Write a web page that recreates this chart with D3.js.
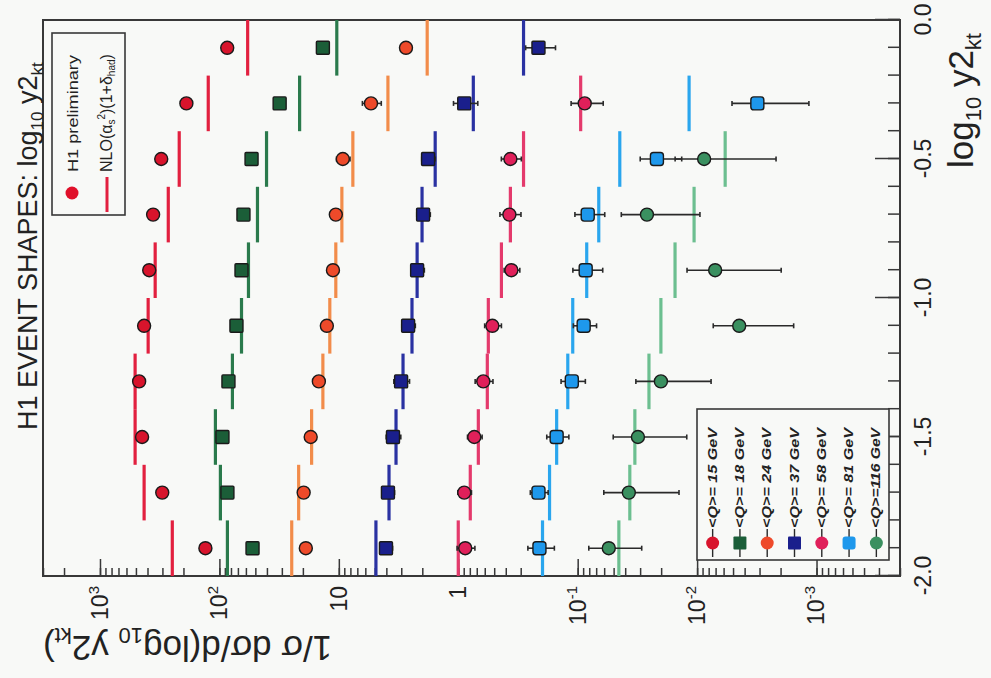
<!DOCTYPE html>
<html>
<head>
<meta charset="utf-8">
<script src="https://cdn.jsdelivr.net/npm/d3@7"></script>
<style>
  body { margin: 0; background: #f8f9f7; }
  svg { display: block; }
  text { font-family: "Liberation Sans", Arial, sans-serif; fill: #222; }
</style>
</head>
<body>
<svg id="chart"></svg>
<script>
// H1 event shapes, log10 y2kt, drawn upright then turned a quarter left

// bin centres of log10 y2kt
var bins = [-1.9, -1.7, -1.5, -1.3, -1.1, -0.9, -0.7, -0.5, -0.3, -0.1];

// data (scaled per <Q> bin as in the plot), NLO curves and relative errors
var q15 = [131, 301, 444, 470, 427, 387, 359, 307, 189, 86];
var q15Nlo = [248, 427, 508, 508, 395, 345, 268, 217, 124, 58];
var q15Err = [0.1, 0.08, 0.08, 0.08, 0.08, 0.08, 0.08, 0.08, 0.08, 0.08];

var q18 = [52.8, 85.7, 94.3, 84, 72, 65.3, 62.9, 53.8, 31.3, 13.6];
var q18Nlo = [85.7, 98.1, 108, 77.8, 65.3, 57.1, 48, 40.3, 21.3, 10.4];
var q18Err = [0.08, 0.08, 0.08, 0.08, 0.08, 0.08, 0.08, 0.08, 0.08, 0.08];

var q24 = [18.9, 19.7, 17.2, 14.7, 12.6, 11.2, 10.6, 9.26, 5.38, 2.74];
var q24Nlo = [24.8, 21.7, 16.9, 13.6, 11.9, 10.6, 9.43, 7.63, 3.88, 1.82];
var q24Err = [0.1, 0.1, 0.1, 0.1, 0.1, 0.1, 0.1, 0.13, 0.18, 0.1];

var q37 = [4.03, 3.88, 3.52, 3.01, 2.63, 2.21, 1.97, 1.79, 0.891, 0.213];
var q37Nlo = [4.89, 3.80, 3.32, 2.90, 2.44, 2.21, 2.01, 1.56, 0.748, 0.284];
var q37Err = [0.12, 0.12, 0.14, 0.15, 0.13, 0.13, 0.13, 0.13, 0.23, 0.28];

var q58 = [0.874, 0.891, 0.734, 0.617, 0.518, 0.359, 0.373, 0.366, 0.0873, null];
var q58Nlo = [1.0, 0.793, 0.679, 0.571, 0.560, 0.435, 0.366, 0.284, 0.0944, null];
var q58Err = [0.17, 0.13, 0.14, 0.17, 0.16, 0.15, 0.2, 0.19, 0.3, null];

var q81 = [0.209, 0.213, 0.150, 0.112, 0.0891, 0.0857, 0.0824, 0.0217, 0.00313, null];
var q81Nlo = [0.197, 0.172, 0.150, 0.121, 0.110, 0.0840, 0.0666, 0.0444, 0.01167, null];
var q81Err = [0.25, 0.17, 0.21, 0.23, 0.22, 0.28, 0.28, 0.38, 0.63, null];

var q116 = [0.0549, 0.0373, 0.0313, 0.0201, 0.00444, 0.00706, 0.0263, 0.00873, null, null];
var q116Nlo = [0.0452, 0.0366, 0.0332, 0.0253, 0.0201, 0.0153, 0.0106, 0.00582, null, null];
var q116Err = [0.47, 0.62, 0.61, 0.62, 0.65, 0.72, 0.64, 0.75, null, null];

var qLabels = ['<Q>= 15 GeV', '<Q>= 18 GeV', '<Q>= 24 GeV', '<Q>= 37 GeV',
               '<Q>= 58 GeV', '<Q>= 81 GeV', '<Q>=116 GeV'];

// tick labels
var xTickVals = [-2, -1.5, -1, -0.5, 0];
var xTickLabels = ['-2.0', '-1.5', '-1.0', '-0.5', '0.0'];
var yTickVals = [1e3, 1e2, 10, 1, 1e-1, 1e-2, 1e-3];
var yTickLabels = ['10^3', '10^2', '10', '1', '10^-1', '10^-2', '10^-3'];

var series = [
    {vals: q15, nlo: q15Nlo, err: q15Err, shape: 'circle', fill: '#d8142c', line: '#e2203f'},
    {vals: q18, nlo: q18Nlo, err: q18Err, shape: 'square', fill: '#1b5e38', line: '#2a7a4c'},
    {vals: q24, nlo: q24Nlo, err: q24Err, shape: 'circle', fill: '#ee4a2a', line: '#f28c4a'},
    {vals: q37, nlo: q37Nlo, err: q37Err, shape: 'square', fill: '#1a1f8c', line: '#2a32a2'},
    {vals: q58, nlo: q58Nlo, err: q58Err, shape: 'circle', fill: '#e0205a', line: '#e43a6c'},
    {vals: q81, nlo: q81Nlo, err: q81Err, shape: 'rsquare', fill: '#1e98ec', line: '#2aa6ee'},
    {vals: q116, nlo: q116Nlo, err: q116Err, shape: 'circle', fill: '#3a9060', line: '#6cbf90'}
];

var svgWidth = 991;
var svgHeight = 678;
var binHalf = 0.1;

var svg = d3.select('#chart')
    .attr('width', svgWidth)
    .attr('height', svgHeight);

// everything below is in the upright frame (678 wide, 991 tall)
var g = svg.append('g')
    .attr('transform', `translate(0,${svgHeight}) rotate(-90)`);

var xScale = d3.scaleLinear()
    .domain([-2, 0])
    .range([102, 658]);

var yScale = d3.scaleLog()
    .domain([2e-4, 3000])
    .range([900, 43]);

// axes
var axisColor = '#383838';

var xMinor = g.append('g')
    .attr('transform', 'translate(0,900)')
    .call(d3.axisBottom(xScale).tickValues(xScale.ticks(20)).tickSize(-12).tickFormat(''));

var xMajor = g.append('g')
    .attr('transform', 'translate(0,900)')
    .call(d3.axisBottom(xScale).tickValues(xTickVals).tickSize(-25).tickPadding(15)
        .tickFormat(function (d, i) { return xTickLabels[i]; }));

var yMinor = g.append('g')
    .attr('transform', 'translate(102,0)')
    .call(d3.axisLeft(yScale).tickValues(yScale.ticks()).tickSize(-8).tickFormat(''));

var yMajor = g.append('g')
    .attr('transform', 'translate(102,0)')
    .call(d3.axisLeft(yScale).tickValues(yTickVals).tickSize(-17).tickPadding(10)
        .tickFormat(function (d, i) { return yTickLabels[i]; }));

[xMinor, xMajor, yMinor, yMajor].forEach(function (a) {
    a.select('.domain').remove();
    a.selectAll('line').attr('stroke', axisColor).attr('stroke-width', 1.5);
    a.attr('font-size', 23).attr('font-family', null);
});

// powers of ten as superscripts
yMajor.selectAll('text').each(function (d, i) {
    var parts = yTickLabels[i].split('^');
    var t = d3.select(this).text('');
    t.append('tspan').text(parts[0]);
    if (parts[1]) {
        t.append('tspan').attr('dy', '-0.6em').attr('font-size', 15).text(parts[1]);
    }
});

// frame
g.append('rect')
    .attr('x', 102).attr('y', 43)
    .attr('width', 556).attr('height', 857)
    .attr('fill', 'none')
    .attr('stroke', axisColor)
    .attr('stroke-width', 2);

// NLO step lines
series.forEach(function (s) {
    var pts = bins.map(function (b, i) { return {b: b, n: s.nlo[i]}; })
        .filter(function (p) { return p.n != null; });
    g.append('g').selectAll('line')
        .data(pts)
        .enter()
        .append('line')
        .attr('x1', function (p) { return xScale(p.b - binHalf); })
        .attr('x2', function (p) { return xScale(p.b + binHalf); })
        .attr('y1', function (p) { return yScale(p.n); })
        .attr('y2', function (p) { return yScale(p.n); })
        .attr('stroke', s.line)
        .attr('stroke-width', 3.2);
});

// error bars
series.forEach(function (s) {
    var pts = bins.map(function (b, i) { return {b: b, v: s.vals[i], e: s.err[i]}; })
        .filter(function (p) { return p.v != null; });
    var eg = g.append('g').attr('stroke', '#2a2a2a').attr('stroke-width', 1.6);
    eg.selectAll('line.bar')
        .data(pts)
        .enter()
        .append('line')
        .attr('class', 'bar')
        .attr('x1', function (p) { return xScale(p.b); })
        .attr('x2', function (p) { return xScale(p.b); })
        .attr('y1', function (p) { return yScale(p.v * (1 + p.e)); })
        .attr('y2', function (p) { return yScale(p.v * (1 - p.e)); });
    [1, -1].forEach(function (sign) {
        eg.selectAll('line.cap' + sign)
            .data(pts)
            .enter()
            .append('line')
            .attr('x1', function (p) { return xScale(p.b) - 2.5; })
            .attr('x2', function (p) { return xScale(p.b) + 2.5; })
            .attr('y1', function (p) { return yScale(p.v * (1 + sign * p.e)); })
            .attr('y2', function (p) { return yScale(p.v * (1 + sign * p.e)); });
    });
});

function drawMarker(sel, s) {
    if (s.shape === 'circle') {
        sel.append('circle').attr('r', 6.5);
    } else {
        sel.append('rect')
            .attr('x', -6.5).attr('y', -6.5)
            .attr('width', 13).attr('height', 13)
            .attr('rx', s.shape === 'rsquare' ? 3 : 1);
    }
    sel.selectAll('circle, rect')
        .attr('fill', s.fill)
        .attr('stroke', '#1a1a1a')
        .attr('stroke-width', 1.4);
}

// data points
series.forEach(function (s) {
    var pts = bins.map(function (b, i) { return {b: b, v: s.vals[i]}; })
        .filter(function (p) { return p.v != null; });
    g.append('g').selectAll('g')
        .data(pts)
        .enter()
        .append('g')
        .attr('transform', function (p) { return `translate(${xScale(p.b)},${yScale(p.v)})`; })
        .each(function () { drawMarker(d3.select(this), s); });
});

// legend: data / NLO
var leg1 = g.append('g');
leg1.append('rect')
    .attr('x', 463).attr('y', 52)
    .attr('width', 182).attr('height', 73)
    .attr('fill', 'none').attr('stroke', axisColor).attr('stroke-width', 1.6);
leg1.append('circle')
    .attr('cx', 485).attr('cy', 72).attr('r', 6.5)
    .attr('fill', '#e0102a');
leg1.append('text')
    .attr('x', 506).attr('y', 72)
    .attr('dominant-baseline', 'central')
    .attr('font-size', 15)
    .attr('textLength', 117).attr('lengthAdjust', 'spacingAndGlyphs')
    .text('H1 preliminary');
leg1.append('line')
    .attr('x1', 466).attr('x2', 501)
    .attr('y1', 107).attr('y2', 107)
    .attr('stroke', '#e2203f').attr('stroke-width', 3);
var nloText = leg1.append('text')
    .attr('x', 506).attr('y', 112)
    .attr('font-size', 16);
nloText.append('tspan').text('NLO(\u03b1');
nloText.append('tspan').attr('font-size', 10).attr('dy', 3).text('s');
nloText.append('tspan').attr('font-size', 10).attr('dy', -10).text('2');
nloText.append('tspan').attr('dy', 7).text(')(1+\u03b4');
nloText.append('tspan').attr('font-size', 10).attr('dy', 3).text('had');
nloText.append('tspan').attr('dy', -3).text(')');

// legend: <Q> bins
var leg2 = g.append('g');
leg2.append('rect')
    .attr('x', 118).attr('y', 697)
    .attr('width', 151).attr('height', 192)
    .attr('fill', '#f8f9f7').attr('stroke', axisColor).attr('stroke-width', 1.6);
var rowY = d3.scaleBand().domain(d3.range(qLabels.length)).range([699, 890]);
series.forEach(function (s, i) {
    var cy = rowY(i) + rowY.bandwidth() / 2;
    leg2.append('line')
        .attr('x1', 121).attr('x2', 149)
        .attr('y1', cy).attr('y2', cy)
        .attr('stroke', '#2a2a2a').attr('stroke-width', 1.4);
    var m = leg2.append('g').attr('transform', `translate(135,${cy})`);
    drawMarker(m, s);
    m.selectAll('circle, rect').attr('stroke', 'none');
    leg2.append('text')
        .attr('x', 150).attr('y', cy)
        .attr('dominant-baseline', 'central')
        .attr('font-size', 12)
        .attr('font-weight', 'bold')
        .attr('font-style', 'italic')
        .attr('textLength', 100).attr('lengthAdjust', 'spacingAndGlyphs')
        .text(qLabels[i]);
});

// title
var title = g.append('text')
    .attr('x', 248).attr('y', 37)
    .attr('font-size', 27);
title.append('tspan').text('H1 EVENT SHAPES: log');
title.append('tspan').attr('font-size', 17).attr('dy', 6).text('10');
title.append('tspan').attr('dy', -6).text(' y2');
title.append('tspan').attr('font-size', 17).attr('dy', 6).text('kt');

// axis titles
var xTitle = g.append('text')
    .attr('x', 645).attr('y', 973)
    .attr('text-anchor', 'end')
    .attr('font-size', 35);
xTitle.append('tspan').text('log');
xTitle.append('tspan').attr('font-size', 22).attr('dy', 8).text('10');
xTitle.append('tspan').attr('dy', -8).text(' y2');
xTitle.append('tspan').attr('font-size', 22).attr('dy', 8).text('kt');

var yTitle = g.append('text')
    .attr('transform', 'translate(42,43) rotate(-90)')
    .attr('text-anchor', 'end')
    .attr('font-size', 35);
yTitle.append('tspan').text('1/\u03c3 d\u03c3/d(log');
yTitle.append('tspan').attr('font-size', 22).attr('dy', 8).text('10');
yTitle.append('tspan').attr('dy', -8).text(' y2');
yTitle.append('tspan').attr('font-size', 22).attr('dy', 8).text('kt');
yTitle.append('tspan').attr('dy', -8).text(')');
</script>
</body>
</html>
